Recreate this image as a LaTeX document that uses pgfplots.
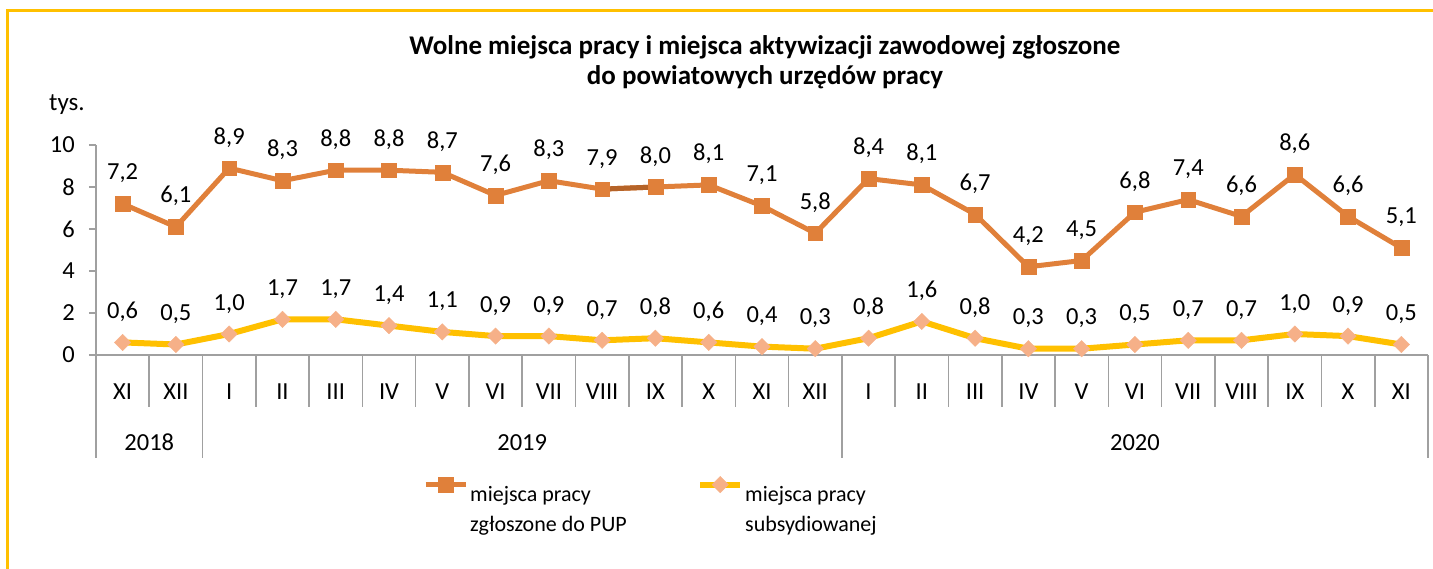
\documentclass[border=0pt]{standalone}
\usepackage{pgfplots}
\pgfplotsset{compat=1.18}
\usepackage{fontspec}
\setmainfont{Carlito}
\definecolor{framecol}{RGB}{255,192,0}
\definecolor{orangecol}{RGB}{224,128,58}
\definecolor{darkseg}{RGB}{181,99,40}
\definecolor{yellowcol}{RGB}{255,192,0}
\definecolor{diacol}{RGB}{246,176,136}
\definecolor{sepcol}{RGB}{160,160,160}
\begin{document}
\begin{tikzpicture}
\path[use as bounding box] (0pt,0pt) rectangle (1433pt,-568pt);
\draw[framecol, line width=3pt] (7pt,-570pt) -- (7pt,-10pt) -- (1435pt,-10pt);
\node[anchor=base, font=\fontsize{27}{30}\selectfont\bfseries] at (765pt,-54pt) {Wolne miejsca pracy i miejsca aktywizacji zawodowej zgłoszone};
\node[anchor=base, font=\fontsize{27}{30}\selectfont\bfseries] at (765pt,-84pt) {do powiatowych urzędów pracy};
\node[anchor=base west, inner sep=0pt, font=\fontsize{25}{28}\selectfont] at (49pt,-110pt) {tys.};
\begin{axis}[
  at={(96pt,-355pt)}, anchor=south west,
  scale only axis, width=1332pt, height=210pt,
  xmin=-0.5, xmax=24.5, ymin=0, ymax=10,
  clip=false,
  axis x line*=bottom, axis y line*=left,
  axis line style={sepcol, line width=1.6pt},
  tick align=outside,
  major tick length=7pt,
  ytick={0,2,...,10},
  ytick style={sepcol, line width=1.6pt},
  xtick={0,...,24},
  xtick style={draw=none},
  xticklabels={XI,XII,I,II,III,IV,V,VI,VII,VIII,IX,X,XI,XII,I,II,III,IV,V,VI,VII,VIII,IX,X,XI},
  xticklabel style={anchor=base, yshift=-37pt},
  yticklabel style={anchor=east, inner xsep=0pt, xshift=-14pt},
  ticklabel style={font=\fontsize{24.5}{28}\selectfont},
  /pgf/number format/assume math mode=true,
  nodes near coords={\pgfmathprintnumber[fixed,fixed zerofill,precision=1,use comma,assume math mode=true]{\pgfplotspointmeta}},
  every node near coord/.append style={font=\fontsize{24.5}{28}\selectfont, anchor=base, yshift=24pt, text=black},
  legend image code/.code={\draw[mark repeat=2,mark phase=2,#1] plot coordinates {(0pt,10pt) (20pt,10pt) (40pt,10pt)};},
  legend style={at={(axis description cs:0.2455,-0.577)}, anchor=north west, draw=none, fill=none, inner sep=0pt,
    font=\fontsize{22}{30}\selectfont, legend columns=2},
]
\pgfplotsinvokeforeach{-0.5,0.5,...,24.5}{\draw[sepcol, line width=1.6pt] (axis cs:#1,0) -- ++(0pt,-52pt);}
\pgfplotsinvokeforeach{-0.5,1.5,13.5,24.5}{\draw[sepcol, line width=1.6pt] (axis cs:#1,0) -- ++(0pt,-103pt);}
\node[anchor=base, font=\fontsize{24.5}{28}\selectfont] at (axis cs:0.5,0) [yshift=-95pt] {2018};
\node[anchor=base, font=\fontsize{24.5}{28}\selectfont] at (axis cs:7.5,0) [yshift=-95pt] {2019};
\node[anchor=base, font=\fontsize{24.5}{28}\selectfont] at (axis cs:19,0) [yshift=-95pt] {2020};
\addplot[orangecol, line width=5pt, mark=square*, mark size=7.4pt, mark options={solid, line width=0.4pt, draw=orangecol, fill=orangecol}] coordinates {
(0,7.2)(1,6.1)(2,8.9)(3,8.3)(4,8.8)(5,8.8)(6,8.7)(7,7.6)(8,8.3)(9,7.9)(10,8.0)(11,8.1)(12,7.1)(13,5.8)(14,8.4)(15,8.1)(16,6.7)(17,4.2)(18,4.5)(19,6.8)(20,7.4)(21,6.6)(22,8.6)(23,6.6)(24,5.1)};
\addlegendentry{\parbox[t]{225pt}{miejsca pracy\\zgłoszone do PUP}}
\addplot[yellowcol, line width=6pt, mark=square*, mark size=5.8pt, mark options={solid, line width=0.4pt, draw=diacol, fill=diacol, rotate=45}] coordinates {
(0,0.6)(1,0.5)(2,1.0)(3,1.7)(4,1.7)(5,1.4)(6,1.1)(7,0.9)(8,0.9)(9,0.7)(10,0.8)(11,0.6)(12,0.4)(13,0.3)(14,0.8)(15,1.6)(16,0.8)(17,0.3)(18,0.3)(19,0.5)(20,0.7)(21,0.7)(22,1.0)(23,0.9)(24,0.5)};
\addlegendentry{\parbox[t]{200pt}{miejsca pracy\\subsydiowanej}}
\addplot[darkseg, line width=5pt, shorten <=7.4pt, shorten >=7.4pt, nodes near coords={}, forget plot] coordinates {(9,7.9)(10,8.0)};
\end{axis}
\end{tikzpicture}
\end{document}
